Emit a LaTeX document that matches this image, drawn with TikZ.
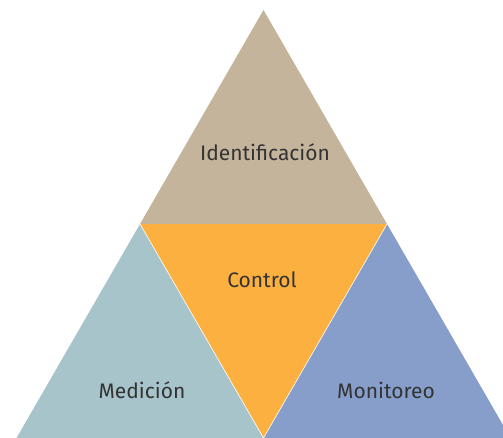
\documentclass[tikz,border=0pt]{standalone}
\usepackage{fontspec}
\setmainfont{Fira Sans}
\usepackage{tikz}
\definecolor{tanfill}{HTML}{C4B49B}
\definecolor{orangefill}{HTML}{FBB040}
\definecolor{greyblue}{HTML}{A7C4CA}
\definecolor{bluefill}{HTML}{879ECB}
\definecolor{labeltext}{HTML}{333333}
\tikzset{
  edge/.style  = { draw=white, line width=0.6pt, line join=miter },
  label/.style = { text=labeltext, font=\fontsize{21}{24}\selectfont, inner sep=0pt }
}

\begin{document}
\begin{tikzpicture}[x=1pt,y=1pt]
  \useasboundingbox (0,0) rectangle (503,437);
  \clip (0,0) rectangle (503,437);
  % Corner points
  \coordinate (top) at (263.5,427);
  \coordinate (ml) at (140,213);
  \coordinate (mr) at (387,213);
  \coordinate (bl) at (16.5,-1);
  \coordinate (bm) at (263.5,-1);
  \coordinate (br) at (510.5,-1);
  % Draw all parts
  \fill[tanfill] (top) -- (ml) -- (mr) -- cycle;
  \fill[greyblue] (ml) -- (bl) -- (bm) -- cycle;
  \fill[bluefill] (mr) -- (bm) -- (br) -- cycle;
  \fill[orangefill] (ml) -- (mr) -- (bm) -- cycle;
  \draw[edge] (ml) -- (bm) -- (mr);
  % Draw labels
  \node[label] (ident) at (265,285) {Identificación};
  \node[label] (ctrl) at (262,157) {Control};
  \node[label] (med) at (142,47) {Medición};
  \node[label] (mon) at (386,47) {Monitoreo};
\end{tikzpicture}
\end{document}
